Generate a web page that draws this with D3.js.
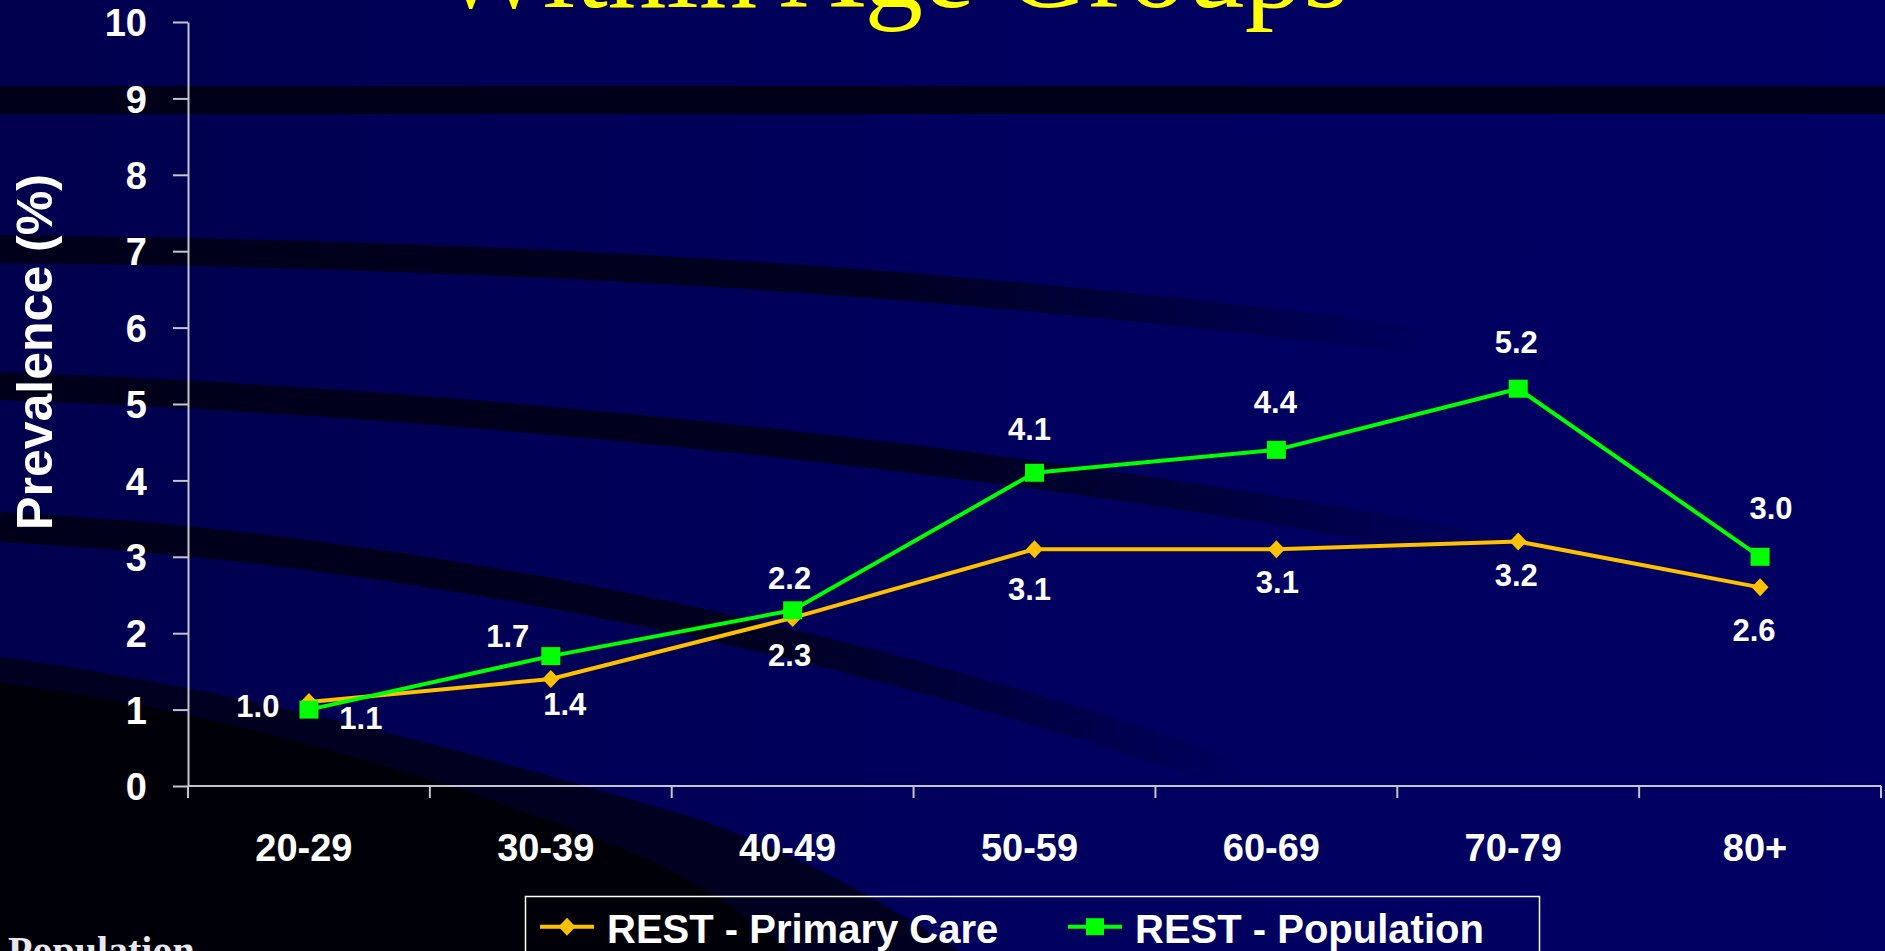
<!DOCTYPE html>
<html>
<head>
<meta charset="utf-8">
<script src="https://cdn.jsdelivr.net/npm/d3@7"></script>
<style>
  html, body { margin: 0; padding: 0; background: #000058; overflow: hidden; }
  svg { display: block; }
  .sans { font-family: "Liberation Sans", Arial, Helvetica, sans-serif; font-weight: bold; }
</style>
</head>
<body>
<svg id="chart" width="1885" height="951"></svg>
<script>
// ---- data ----
const categories = ["20-29", "30-39", "40-49", "50-59", "60-69", "70-79", "80+"];
const primaryCare = [1.1, 1.4, 2.2, 3.1, 3.1, 3.2, 2.6];
const population = [1.0, 1.7, 2.3, 4.1, 4.4, 5.2, 3.0];
const yTicks = [0, 1, 2, 3, 4, 5, 6, 7, 8, 9, 10];
const seriesNames = ["REST - Primary Care", "REST - Population"];
const titleText = "Within Age Groups";
const yTitle = "Prevalence (%)";
const footText = "Population";

// ---- label placement (pixel offset of each value label from its marker) ----
const primaryLabelOffsets = [[52, 16], [14, 25], [-3, -40], [-5, 40], [1, 33], [-2, 33], [-6, 42]];
const populationLabelOffsets = [[-51, -4], [-43, -20], [-3, 45], [-5, -44], [-1, -48], [-2, -47], [11, -49]];

const W = 1885, H = 951;
const svg = d3.select("#chart");
const defs = svg.append("defs");

// ---- slide background ----
const bg = defs.append("linearGradient").attr("id", "bgGrad")
  .attr("x1", 0).attr("y1", 0).attr("x2", 1).attr("y2", 0);
bg.append("stop").attr("offset", "0%").attr("stop-color", "#00004e");
bg.append("stop").attr("offset", "55%").attr("stop-color", "#00005e");
bg.append("stop").attr("offset", "100%").attr("stop-color", "#000064");
svg.append("rect").attr("width", W).attr("height", H).attr("fill", "url(#bgGrad)");

function fadeGradient(id, x0, x1, color) {
  const g = defs.append("linearGradient").attr("id", id)
    .attr("gradientUnits", "userSpaceOnUse")
    .attr("x1", x0).attr("y1", 0).attr("x2", x1).attr("y2", 0);
  g.append("stop").attr("offset", "0%").attr("stop-color", color).attr("stop-opacity", 1);
  g.append("stop").attr("offset", "60%").attr("stop-color", color).attr("stop-opacity", 0.9);
  g.append("stop").attr("offset", "100%").attr("stop-color", color).attr("stop-opacity", 0);
}
fadeGradient("fadeB", 0, 1450, "#00001a");
fadeGradient("fadeC", 0, 1550, "#00001a");
fadeGradient("fadeD", 0, 1250, "#00001a");

const swoosh = svg.append("g");
// straight dark band near the top
swoosh.append("rect").attr("x", 0).attr("y", 86).attr("width", W).attr("height", 28).attr("fill", "#000018");
// curved bands sweeping down to the right
swoosh.append("path").attr("d", "M0,249 C400,253 900,270 1450,345")
  .attr("fill", "none").attr("stroke", "url(#fadeB)").attr("stroke-width", 28);
swoosh.append("path").attr("d", "M0,386 C400,400 1000,450 1550,560")
  .attr("fill", "none").attr("stroke", "url(#fadeC)").attr("stroke-width", 28);
swoosh.append("path").attr("d", "M0,527 C350,545 800,620 1250,780")
  .attr("fill", "none").attr("stroke", "url(#fadeD)").attr("stroke-width", 30);
// dark lower-left region
swoosh.append("path").attr("d", "M0,657 C250,690 500,760 700,820 C800,855 880,900 960,951 L0,951 Z")
  .attr("fill", "#000020");
swoosh.append("path").attr("d", "M0,683 C250,715 480,790 650,860 C720,895 760,925 790,951 L0,951 Z")
  .attr("fill", "#000008");

// ---- title (runs off the top of the frame) ----
svg.append("text").attr("x", 437).attr("y", 7)
  .attr("font-family", "'Liberation Serif', 'Times New Roman', serif")
  .attr("font-size", 117).attr("fill", "#ffff00").text(titleText);

// ---- scales ----
const x = d3.scaleBand().domain(categories).range([188, 1881]).padding(0);
const y = d3.scaleLinear().domain([0, 10]).range([786, 22]);
const cx = c => x(c) + x.bandwidth() / 2;

// ---- y axis ----
const yAxis = svg.append("g").attr("transform", "translate(188,0)")
  .call(d3.axisLeft(y).tickValues(yTicks).tickSizeOuter(0).tickSizeInner(15).tickPadding(26).tickFormat(d3.format("d")));
yAxis.select(".domain").attr("stroke", "#c4c4cc").attr("stroke-width", 2);
yAxis.selectAll(".tick line").attr("stroke", "#c4c4cc").attr("stroke-width", 2);
yAxis.selectAll(".tick text").attr("class", "sans").attr("fill", "#ffffff")
  .attr("font-size", 38).attr("dy", "0.36em");

// ---- x axis: line, boundary ticks, category labels ----
const xAxis = svg.append("g");
xAxis.append("line").attr("x1", 188).attr("x2", 1881).attr("y1", y(0)).attr("y2", y(0))
  .attr("stroke", "#c4c4cc").attr("stroke-width", 2);
const bounds = categories.map(c => x(c)).concat([x.range()[1]]);
xAxis.selectAll("line.bt").data(bounds).join("line").attr("class", "bt")
  .attr("x1", d => d).attr("x2", d => d).attr("y1", y(0)).attr("y2", y(0) + 12)
  .attr("stroke", "#c4c4cc").attr("stroke-width", 2);
xAxis.selectAll("text").data(categories).join("text").attr("class", "sans")
  .attr("x", d => cx(d) - 5).attr("y", 861).attr("text-anchor", "middle")
  .attr("font-size", 38).attr("fill", "#ffffff").text(d => d);

// ---- y axis title ----
svg.append("text").attr("class", "sans")
  .attr("transform", "translate(52,352) rotate(-90)")
  .attr("text-anchor", "middle").attr("font-size", 50).attr("fill", "#ffffff").text(yTitle);

// ---- series ----
const line = d3.line().x((d, i) => cx(categories[i])).y(d => y(d));
const PC = "#ffc000", POP = "#00ff00";
const diamond = "M0,-9 L8.5,0 L0,9 L-8.5,0 Z";

svg.append("path").datum(primaryCare).attr("d", line)
  .attr("fill", "none").attr("stroke", PC).attr("stroke-width", 4).attr("stroke-linejoin", "round");
svg.append("g").selectAll("path").data(primaryCare).join("path")
  .attr("d", diamond).attr("fill", PC)
  .attr("transform", (d, i) => `translate(${cx(categories[i])},${y(d)})`);

svg.append("path").datum(population).attr("d", line)
  .attr("fill", "none").attr("stroke", POP).attr("stroke-width", 4).attr("stroke-linejoin", "round");
svg.append("g").selectAll("rect").data(population).join("rect")
  .attr("x", (d, i) => cx(categories[i]) - 9.5).attr("y", d => y(d) - 9)
  .attr("width", 19).attr("height", 18).attr("fill", POP);

// ---- value labels ----
function valueLabels(values, offsets) {
  svg.append("g").selectAll("text").data(values).join("text").attr("class", "sans")
    .attr("x", (d, i) => cx(categories[i]) + offsets[i][0])
    .attr("y", (d, i) => y(d) + offsets[i][1])
    .attr("dy", "0.36em").attr("text-anchor", "middle")
    .attr("font-size", 31).attr("fill", "#ffffff")
    .text(d => d3.format(".1f")(d));
}
valueLabels(primaryCare, primaryLabelOffsets);
valueLabels(population, populationLabelOffsets);

// ---- legend ----
const legend = svg.append("g");
legend.append("rect").attr("x", 525.5).attr("y", 896.5).attr("width", 1014).attr("height", 90)
  .attr("fill", "none").attr("stroke", "#ffffff").attr("stroke-width", 1.5);
const legendItems = [
  { name: seriesNames[0], color: PC, x0: 540, marker: "diamond", tx: 607 },
  { name: seriesNames[1], color: POP, x0: 1068, marker: "square", tx: 1135 }
];
legendItems.forEach(it => {
  const gy = 926.7;
  legend.append("line").attr("x1", it.x0).attr("x2", it.x0 + 54).attr("y1", gy).attr("y2", gy)
    .attr("stroke", it.color).attr("stroke-width", 4);
  if (it.marker === "diamond") {
    legend.append("path").attr("d", diamond).attr("fill", it.color)
      .attr("transform", `translate(${it.x0 + 27},${gy})`);
  } else {
    legend.append("rect").attr("x", it.x0 + 27 - 9).attr("y", gy - 8.5)
      .attr("width", 18).attr("height", 17).attr("fill", it.color);
  }
  legend.append("text").attr("class", "sans").attr("x", it.tx).attr("y", 942.5)
    .attr("font-size", 40).attr("fill", "#ffffff").text(it.name);
});

// ---- source note at the bottom edge ----
svg.append("text").attr("x", 8).attr("y", 964)
  .attr("font-family", "'Liberation Serif', 'Times New Roman', serif").attr("font-weight", "bold")
  .attr("font-size", 40).attr("fill", "#e8e8f0").text(footText);
</script>
</body>
</html>
